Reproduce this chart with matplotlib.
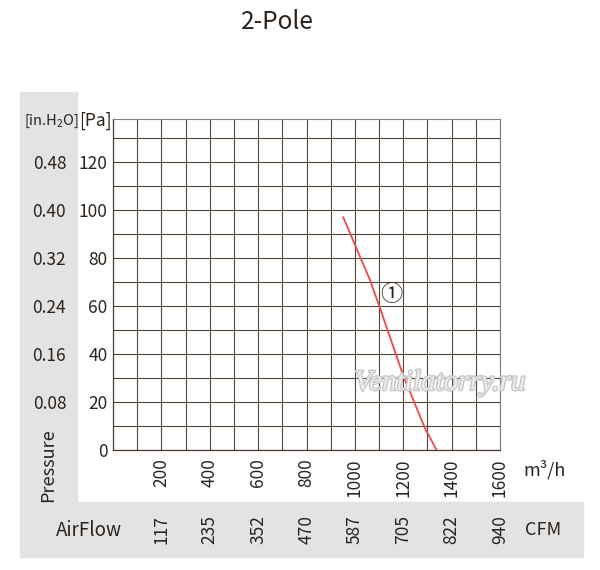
import matplotlib
matplotlib.use('Agg')
import matplotlib.pyplot as plt
import matplotlib.patheffects as pe
from matplotlib.patches import Rectangle

plt.rcParams['font.family'] = ['Noto Sans CJK SC', 'DejaVu Sans']
plt.rcParams['mathtext.fontset'] = 'custom'
plt.rcParams['mathtext.rm'] = 'Noto Sans CJK SC'

# data
flow_m3h = [952, 1007, 1062, 1101, 1142, 1200, 1241, 1290, 1338]
pressure_pa = [97, 84, 71, 60, 48, 31, 21, 9, 0]

x_ticks = [200, 400, 600, 800, 1000, 1200, 1400, 1600]
cfm_labels = ['117', '235', '352', '470', '587', '705', '822', '940']
y_ticks = [0, 20, 40, 60, 80, 100, 120]
inh2o_labels = ['', '0.08', '0.16', '0.24', '0.32', '0.40', '0.48']

TXT = '#2b221b'
GRID = '#54453a'
W, H = 600, 570


def fx(px):
    return px / W


def fy(py):
    return 1 - py / H


fig = plt.figure(figsize=(6, 5.7), dpi=100)

# grey side bands (behind the axes)
fig.patches.append(Rectangle((fx(20), fy(502)), fx(77) - fx(20), fy(92) - fy(502),
                             transform=fig.transFigure, color='#e3e3e3', zorder=-5))
fig.patches.append(Rectangle((fx(20), fy(557)), fx(583) - fx(20), fy(502) - fy(557),
                             transform=fig.transFigure, color='#e3e3e3', zorder=-5))

ax = fig.add_axes([fx(113), fy(450), fx(500) - fx(113), fy(119) - fy(450)])
ax.set_facecolor('white')
ax.set_xlim(0, 1600)
ax.set_ylim(0, 138)

ax.set_xticks(x_ticks)
ax.set_xticks(range(100, 1600, 200), minor=True)
ax.set_yticks(y_ticks)
ax.set_yticks(range(10, 140, 20), minor=True)
ax.grid(True, which='both', color=GRID, lw=0.8)
ax.set_axisbelow(True)
ax.tick_params(which='both', length=0)
ax.tick_params(axis='x', labelrotation=90, pad=6, labelsize=12.5, labelcolor=TXT)
ax.tick_params(axis='y', pad=4, labelsize=12.5, labelcolor=TXT)
for s in ['left', 'bottom']:
    ax.spines[s].set_color('#4a3c30')
    ax.spines[s].set_linewidth(0.9)
for s in ['top', 'right']:
    ax.spines[s].set_color('#8a7e74')
    ax.spines[s].set_linewidth(0.8)

ax.plot(flow_m3h, pressure_pa, color='#f04848', lw=1.3, zorder=3)
ax.text(1152, 65, '\u2460', fontsize=16, color=TXT, ha='center', va='center')

# secondary scales: in.H2O and CFM
sec_y = ax.secondary_yaxis(-0.121)
sec_y.set_yticks(y_ticks)
sec_y.set_yticklabels(inh2o_labels)
sec_y.spines['left'].set_visible(False)
sec_y.tick_params(length=0, pad=0, labelsize=12.5, labelcolor=TXT)

sec_x = ax.secondary_xaxis(-0.197)
sec_x.set_xticks(x_ticks)
sec_x.set_xticklabels(cfm_labels, rotation=90)
sec_x.spines['bottom'].set_visible(False)
sec_x.tick_params(length=0, pad=0, labelsize=12.5, labelcolor=TXT)

# labels
fig.text(fx(277), fy(22), '2-Pole', fontsize=17.5, color=TXT, ha='center', va='center')
fig.text(fx(95), fy(121), '[Pa]', fontsize=12.5, color=TXT, ha='center', va='center')
fig.text(fx(51), fy(121), r'[in.H$_2$O]', fontsize=10.5, color=TXT, ha='center', va='center')
fig.text(fx(48), fy(465), 'Pressure', fontsize=13, color=TXT, ha='center', va='center',
         rotation=90)
fig.text(fx(89), fy(530), 'AirFlow', fontsize=13.5, color=TXT, ha='center', va='center')
fig.text(fx(543), fy(530), 'CFM', fontsize=13, color=TXT, ha='center', va='center')
fig.text(fx(545), fy(470), 'm\u00b3/h', fontsize=13, color=TXT, ha='center', va='center')

# watermark
fig.text(fx(440), fy(383), 'Ventilatorry.ru', fontsize=21, family='Liberation Serif',
         style='italic', color='#ececec', ha='center', va='center', zorder=5,
         path_effects=[pe.withStroke(linewidth=1.8, foreground='#c4c4c4')])

fig.savefig('out.png', dpi=100)
